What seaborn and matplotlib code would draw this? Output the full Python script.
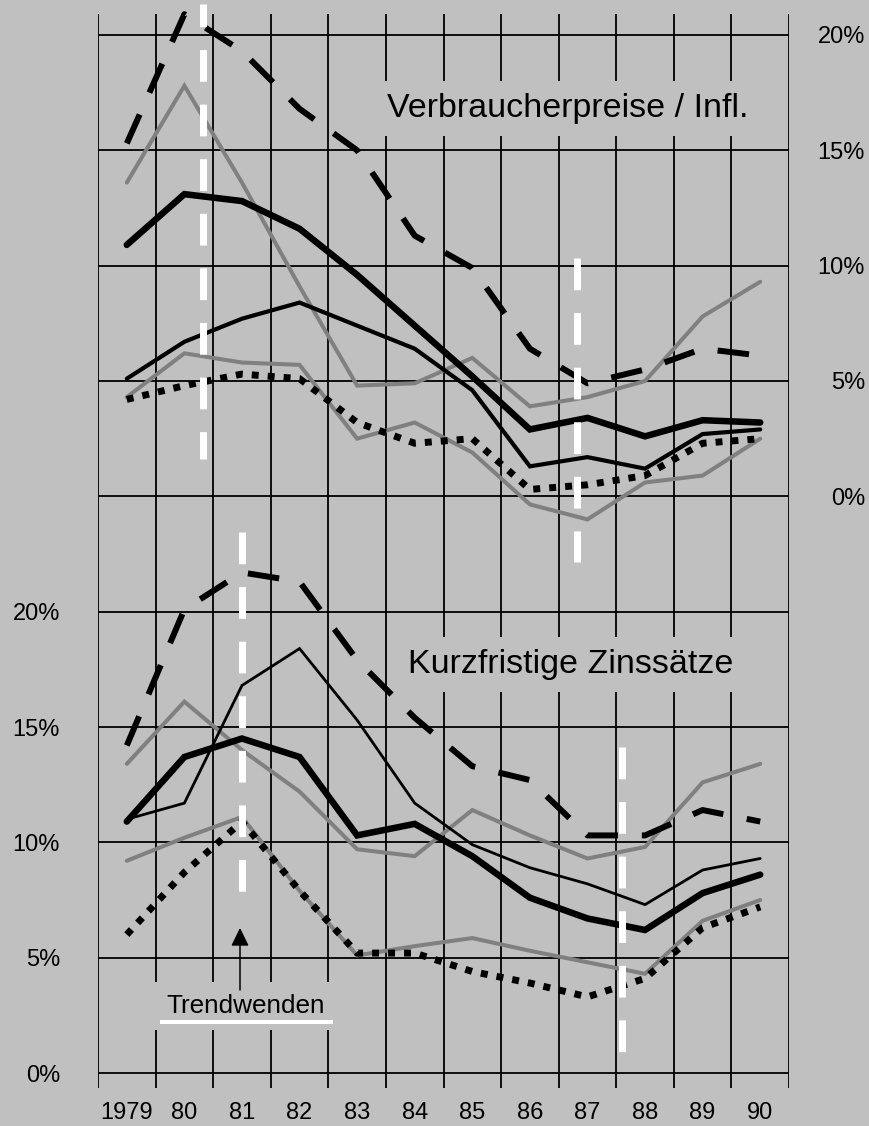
import matplotlib
matplotlib.use("Agg")
import matplotlib.pyplot as plt
import seaborn as sns
import pandas as pd

# ---------------- data ----------------
years = list(range(1979, 1991))
year_labels = ["1979", "80", "81", "82", "83", "84", "85", "86", "87", "88", "89", "90"]
pct_ticks = [0, 5, 10, 15, 20]
pct_labels = ["0%", "5%", "10%", "15%", "20%"]

# Verbraucherpreise / Inflation (upper panel, %)
infl_dashed = [15.3, 20.9, 19.3, 16.8, 15.0, 11.3, 9.9, 6.4, 4.9, 5.5, 6.4, 6.1]
infl_gray_high = [13.6, 17.8, 13.6, 9.1, 4.8, 4.9, 6.0, 3.9, 4.3, 5.0, 7.8, 9.3]
infl_black_thick = [10.9, 13.1, 12.8, 11.6, 9.6, 7.4, 5.2, 2.9, 3.4, 2.6, 3.3, 3.2]
infl_black_medium = [5.1, 6.7, 7.7, 8.4, 7.4, 6.4, 4.6, 1.3, 1.7, 1.2, 2.7, 2.9]
infl_gray_low = [4.3, 6.2, 5.8, 5.7, 2.5, 3.2, 1.9, -0.35, -1.0, 0.6, 0.9, 2.5]
infl_dotted = [4.2, 4.8, 5.3, 5.1, 3.2, 2.3, 2.5, 0.3, 0.5, 0.9, 2.3, 2.5]

# Kurzfristige Zinssaetze (lower panel, %)
rate_dashed = [14.2, 20.1, 21.7, 21.3, 17.9, 15.4, 13.3, 12.7, 10.3, 10.3, 11.4, 10.9]
rate_gray_high = [13.4, 16.1, 14.0, 12.2, 9.7, 9.4, 11.4, 10.3, 9.3, 9.8, 12.6, 13.4]
rate_black_thin = [11.0, 11.7, 16.8, 18.4, 15.3, 11.7, 9.9, 8.9, 8.2, 7.3, 8.8, 9.3]
rate_black_thick = [10.9, 13.7, 14.5, 13.7, 10.3, 10.8, 9.4, 7.6, 6.7, 6.2, 7.8, 8.6]
rate_gray_low = [9.2, 10.2, 11.1, 7.9, 5.1, 5.5, 5.85, 5.3, 4.8, 4.3, 6.6, 7.5]
rate_dotted = [6.0, 8.7, 10.9, 7.9, 5.2, 5.2, 4.4, 3.9, 3.3, 4.1, 6.3, 7.2]

# ---------------- style ----------------
sns.set_style("white")
plt.rcParams["font.family"] = ["Liberation Sans", "DejaVu Sans"]
plt.rcParams["text.color"] = "black"
plt.rcParams["xtick.color"] = "black"
plt.rcParams["ytick.color"] = "black"

BG = "#c0c0c0"
GRAY = "#808080"

fig = plt.figure(figsize=(8.69, 11.26), dpi=100, facecolor=BG)
rect = [98 / 869, 38 / 1126, 691 / 869, 1074 / 1126]
ax_b = fig.add_axes(rect)               # lower panel (Zinssaetze)
ax_t = fig.add_axes(rect, sharex=ax_b)  # upper panel (Inflation)
for ax in (ax_b, ax_t):
    ax.set_facecolor("none")
    for s in ax.spines.values():
        s.set_visible(False)

YB = (-0.65, 45.91)
YT = (YB[0] - 25, YB[1] - 25)

xpos = [y - years[0] + 0.5 for y in years]

# grid (drawn on lower axes)
ax_b.hlines(range(0, 46, 5), 0, 12, color="black", lw=1.3, zorder=1)
ax_b.vlines(range(13), YB[0], YB[1], color="black", lw=1.3, zorder=1)

styles = {
    "dashed": dict(color="black", linewidth=4.3, linestyle=(0, (5.3, 4.0))),
    "gray_high": dict(color=GRAY, linewidth=2.9, linestyle="-"),
    "black_thick": dict(color="black", linewidth=4.7, linestyle="-"),
    "gray_low": dict(color=GRAY, linewidth=2.9, linestyle="-"),
    "dotted": dict(color="black", linewidth=5.0, linestyle=(0, (1.0, 1.3))),
}

top_series = [
    (infl_gray_low, styles["gray_low"]),
    (infl_gray_high, styles["gray_high"]),
    (infl_dotted, styles["dotted"]),
    (infl_black_medium, dict(color="black", linewidth=3.0, linestyle="-")),
    (infl_black_thick, styles["black_thick"]),
    (infl_dashed, styles["dashed"]),
]
bottom_series = [
    (rate_gray_low, styles["gray_low"]),
    (rate_gray_high, styles["gray_high"]),
    (rate_dotted, styles["dotted"]),
    (rate_black_thin, dict(color="black", linewidth=2.0, linestyle="-")),
    (rate_black_thick, styles["black_thick"]),
    (rate_dashed, styles["dashed"]),
]

for vals, st in top_series:
    df = pd.DataFrame({"x": xpos, "y": vals})
    sns.lineplot(data=df, x="x", y="y", ax=ax_t, errorbar=None, zorder=3,
                 clip_on=False, solid_joinstyle="miter", **st)
for vals, st in bottom_series:
    df = pd.DataFrame({"x": xpos, "y": vals})
    sns.lineplot(data=df, x="x", y="y", ax=ax_b, errorbar=None, zorder=3,
                 clip_on=False, solid_joinstyle="miter", **st)

# white dashed "Trendwende" markers
ax_t.plot([1.82, 1.82], [21.34, 1.6], color="white", lw=5, linestyle=(1.3, (4.57, 3.29)),
          zorder=5, clip_on=False)
ax_t.plot([8.32, 8.32], [10.33, -2.85], color="white", lw=5, linestyle=(0, (4.57, 3.29)),
          zorder=5, clip_on=False)
ax_b.plot([2.5, 2.5], [23.45, 7.59], color="white", lw=5, linestyle=(0, (4.57, 3.29)),
          zorder=5, clip_on=False)
ax_b.plot([9.1, 9.1], [14.13, 0.69], color="white", lw=5, linestyle=(0, (4.57, 3.29)),
          zorder=5, clip_on=False)

# panel titles with background boxes
ax_b.text(5.02, 41.45, "Verbraucherpreise / Infl.", fontsize=24.5, ha="left", va="baseline",
          color="black", zorder=2, bbox=dict(boxstyle="square,pad=0.35", fc=BG, ec="none"))
ax_b.text(5.38, 17.34, "Kurzfristige Zinssätze", fontsize=24.5, ha="left", va="baseline",
          color="black", zorder=2, bbox=dict(boxstyle="square,pad=0.35", fc=BG, ec="none"))
ax_b.text(2.57, 2.60, "Trendwenden", fontsize=18.8, ha="center", va="baseline",
          color="black", zorder=2, bbox=dict(boxstyle="square,pad=0.45", fc=BG, ec="none"))
ax_b.plot([1.08, 4.08], [2.21, 2.21], color="white", lw=2.9, zorder=4,
          solid_capstyle="butt")
ax_b.annotate("", xy=(2.466, 6.29), xytext=(2.466, 3.6),
              arrowprops=dict(arrowstyle="-|>,head_length=0.55,head_width=0.27",
                              color="black", lw=1.1, shrinkA=0, shrinkB=0,
                              mutation_scale=20),
              zorder=4)

# axes, ticks
ax_b.set_xlim(0, 12)
ax_b.set_ylim(*YB)
ax_t.set_ylim(*YT)
ax_b.set_xticks(xpos)
ax_b.set_xticklabels(year_labels)
ax_b.set_yticks(pct_ticks)
ax_b.set_yticklabels(pct_labels)
ax_b.set_xlabel("")
ax_b.set_ylabel("")
ax_b.tick_params(axis="both", length=0, labelsize=17, colors="black", labelcolor="black")
ax_b.tick_params(axis="y", pad=27.4)
ax_b.tick_params(axis="x", pad=10)

ax_t.yaxis.tick_right()
ax_t.set_yticks(pct_ticks)
ax_t.set_yticklabels(pct_labels)
ax_t.tick_params(axis="y", length=0, labelsize=17, pad=54.7, colors="black",
                 labelcolor="black")
ax_t.tick_params(axis="x", bottom=False, labelbottom=False)
for lbl in ax_t.get_yticklabels():
    lbl.set_horizontalalignment("right")
ax_t.set_xlabel("")
ax_t.set_ylabel("")

fig.savefig("out.png", dpi=100, facecolor=BG)
